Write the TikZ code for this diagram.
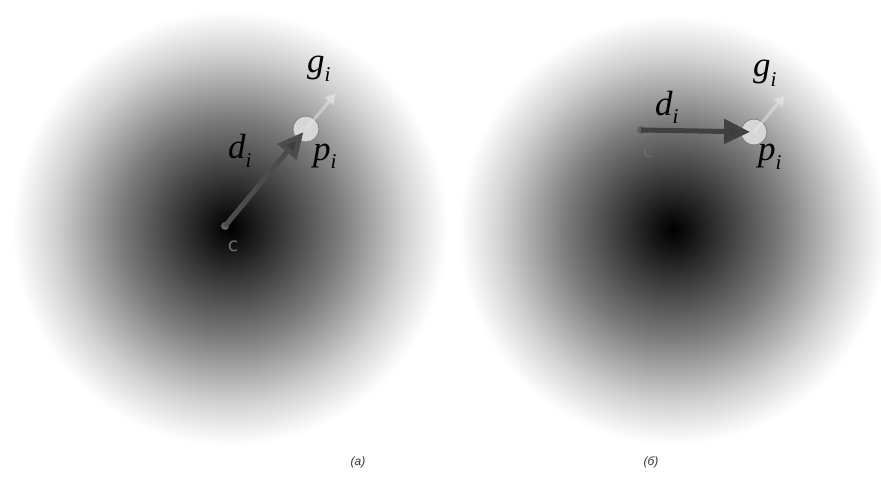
\documentclass[tikz,border=0pt]{standalone}
\usepackage{fontspec}
\setmainfont{Liberation Serif}
\newfontfamily\capfont{Liberation Sans}
\newfontfamily\cfont{DejaVu Sans}
\usetikzlibrary{arrows.meta}
\pgfdeclareradialshading{glow}{\pgfpoint{0bp}{0bp}}{color(0bp)=(black); color(2bp)=(black!93); color(12.5bp)=(black!52); color(20bp)=(black!18); color(23.5bp)=(black!5); color(25bp)=(white); color(50bp)=(white)}
\newcommand\symlab[3]{\fontsize{35}{35}\selectfont\itshape #1\raisebox{-#3pt}{\fontsize{21}{21}\selectfont\itshape #2}}
\tikzset{
  cdot/.style={circle,fill=black!62,minimum size=8pt,inner sep=0pt},
  pcirc/.style={circle,draw=black!50,line width=0.8pt,fill=black!16,minimum size=26pt,inner sep=0pt},
  darr/.style={line width=5pt,draw=black!70,-{Triangle[length=26pt,width=24pt,fill=black!76]}},
  garr/.style={line width=3pt,draw=white!92!black,opacity=0.45,-{Triangle[length=11pt,width=12pt]}},
  clab/.style={font=\cfont\fontsize{19}{19}\selectfont,text=black!58,inner sep=0pt},
  symtext/.style={inner sep=0pt,anchor=base west},
  caption/.style={font=\capfont\itshape\fontsize{12}{12}\selectfont,text=black!80,inner sep=0pt}
}
\begin{document}
\begin{tikzpicture}[x=1pt,y=-1pt]
\useasboundingbox (0,0) rectangle (881,477);
\clip (0,0) rectangle (881,477);
\shade[shading=glow] (230,228) circle (218);
\shade[shading=glow] (673,230) circle (215);
% left panel
\node[cdot] (c1) at (225,226) {};
\node[clab] (cl1) at (233,246) {c};
\node[pcirc] (p1) at (306,129) {};
\coordinate (g1e) at (336,93);
\draw[garr] (p1.center) -- (g1e);
\draw[darr,shorten >=4pt] (c1.center) -- (p1.center);
\node[symtext] (gl1) at (307,72) {\symlab{g}{i}{9}};
\node[symtext] (dl1) at (228,158) {\symlab{d}{i}{9}};
\node[symtext] (pl1) at (313,160) {\symlab{p}{i}{8}};
% right panel
\node[cdot] (c2) at (641,130) {};
\node[clab] (cl2) at (648,152) {c};
\node[pcirc] (p2) at (754,132) {};
\coordinate (g2e) at (785,95);
\draw[garr] (p2.center) -- (g2e);
\draw[darr,draw=black!75,shorten >=4pt] (c2.center) -- (p2.center);
\node[symtext] (gl2) at (753,76) {\symlab{g}{i}{10}};
\node[symtext] (dl2) at (655,115) {\symlab{d}{i}{8}};
\node[symtext] (pl2) at (758,160) {\symlab{p}{i}{9}};
% captions
\node[caption] (capa) at (358,462) {(а)};
\node[caption] (capb) at (651,462) {(б)};
\end{tikzpicture}
\end{document}
